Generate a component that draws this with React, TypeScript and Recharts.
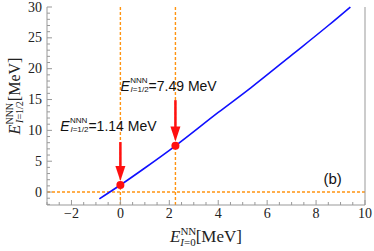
import React from 'react';
import { LineChart, Line, XAxis, YAxis, ReferenceLine, ReferenceDot } from 'recharts';

// curve E_{I=1/2}^{NNN} vs E_{I=0}^{NN}
const curveX = [-0.86, 0, 1, 2.25, 4, 5.33, 7, 8.5, 9.4];
const curveY = [-1.1, 1.14, 3.9, 7.49, 12.9, 16.9, 22.2, 27.0, 30];

// marked points and their arrows
const markX = [0, 2.25];
const markY = [1.14, 7.49];
const arrowTop = [8.1, 14.9];
const arrowTip = [1.8, 8.2];
const markText = ['1.14 MeV', '7.49 MeV'];
const labelX = [-2.46, 0.0];
const labelY = [9.9, 16.45];

const xMajor = [-2, 0, 2, 4, 6, 8, 10];
const yMajor = [0, 5, 10, 15, 20, 25, 30];

const xTicks: number[] = [];
for (let v = -3; v <= 10; v += 0.5) xTicks.push(v);
const yTicks: number[] = [];
for (let v = -2; v <= 30; v += 1) yTicks.push(v);

const data = curveX.map((x, i) => ({ x, y: curveY[i] }));

const FRAME = '#999';
const ORANGE = '#FF9410';
const RED = '#FF1010';
const BLUE = '#1010FF';
const SERIF = 'Liberation Serif';
const SANS = 'Liberation Sans';

const fmt = (v: number) => (v < 0 ? '\u2212' + Math.abs(v) : String(v));

const BottomTick = (p: any) => {
  const v = p.payload.value;
  const major = xMajor.includes(v);
  return (
    <g>
      <line x1={p.x} x2={p.x} y1={p.y} y2={p.y - (major ? 5 : 3)} stroke={FRAME} />
      {major && (
        <text x={p.x} y={p.y + 13} textAnchor="middle" fontFamily={SERIF} fontSize={14} fill="#222">
          {fmt(v)}
        </text>
      )}
    </g>
  );
};

const TopTick = (p: any) => {
  const major = xMajor.includes(p.payload.value);
  return <line x1={p.x} x2={p.x} y1={p.y} y2={p.y + (major ? 5 : 3)} stroke={FRAME} />;
};

const LeftTick = (p: any) => {
  const v = p.payload.value;
  const major = yMajor.includes(v);
  return (
    <g>
      <line x1={p.x} x2={p.x + (major ? 5 : 3)} y1={p.y} y2={p.y} stroke={FRAME} />
      {major && (
        <text x={p.x - 5} y={p.y + 4.5} textAnchor="end" fontFamily={SERIF} fontSize={14} fill="#222">
          {fmt(v)}
        </text>
      )}
    </g>
  );
};

const RightTick = (p: any) => {
  const major = yMajor.includes(p.payload.value);
  return <line x1={p.x} x2={p.x - (major ? 5 : 3)} y1={p.y} y2={p.y} stroke={FRAME} />;
};

const Arrow = (p: any) => {
  const { x1, y1, x2, y2 } = p;
  const head = 15;
  return (
    <g>
      <line x1={x1} y1={y1} x2={x2} y2={y2 - head + 2} stroke={RED} strokeWidth={2.5} />
      <polygon points={`${x2 - 5},${y2 - head} ${x2 + 5},${y2 - head} ${x2},${y2}`} fill={RED} />
    </g>
  );
};

const markLabel = (value: string) => (p: any) => {
  const { x, y } = p.viewBox;
  return (
    <text x={x} y={y} fontFamily={SANS} fontSize={14} fill="#111">
      <tspan fontStyle="italic">E</tspan>
      <tspan fontSize={8} dx={0.5} dy={-8}>NNN</tspan>
      <tspan fontSize={8} dx={-17} dy={9.5} fontStyle="italic">I</tspan>
      <tspan fontSize={8}>=1/2</tspan>
      <tspan dy={-1.5}>={value}</tspan>
    </text>
  );
};

const XTitle = () => (
  <text x={206} y={242} textAnchor="middle" fontFamily={SERIF} fontSize={17} fill="#222">
    <tspan fontStyle="italic">E</tspan>
    <tspan fontSize={11} dy={-7}>NN</tspan>
    <tspan fontSize={11} dx={-16} dy={11} fontStyle="italic">I</tspan>
    <tspan fontSize={11}>=0</tspan>
    <tspan dy={-4}>[MeV]</tspan>
  </text>
);

const YTitle = () => (
  <text transform="rotate(-90)" x={-96} y={20} textAnchor="middle" fontFamily={SERIF} fontSize={16} fill="#222">
    <tspan fontStyle="italic">E</tspan>
    <tspan fontSize={10} dy={-7}>NNN</tspan>
    <tspan fontSize={10} dx={-20} dy={10} fontStyle="italic">I</tspan>
    <tspan fontSize={10}>=1/2</tspan>
    <tspan dy={-3}>[MeV]</tspan>
  </text>
);

const App: React.FC = () => {
  return (
    <div style={{ position: 'absolute', left: 0, top: 0, background: '#fff' }}>
      <LineChart width={374} height={251} data={data} margin={{ top: 7, right: 0, bottom: 0, left: 0 }}>
        <XAxis
          xAxisId="b"
          dataKey="x"
          type="number"
          domain={[-3, 10]}
          ticks={xTicks}
          interval={0}
          height={46}
          tickSize={0}
          tickMargin={0}
          tickLine={false}
          tick={BottomTick}
          axisLine={{ stroke: FRAME }}
          label={{ content: XTitle }}
        />
        <XAxis
          xAxisId="t"
          orientation="top"
          type="number"
          domain={[-3, 10]}
          ticks={xTicks}
          interval={0}
          height={0}
          tickSize={0}
          tickMargin={0}
          tickLine={false}
          tick={TopTick}
          axisLine={{ stroke: FRAME }}
        />
        <YAxis
          yAxisId="l"
          type="number"
          domain={[-2.1, 30]}
          ticks={yTicks}
          interval={0}
          width={47}
          tickSize={0}
          tickMargin={0}
          tickLine={false}
          tick={LeftTick}
          axisLine={{ stroke: FRAME }}
          label={{ content: YTitle }}
        />
        <YAxis
          yAxisId="r"
          orientation="right"
          type="number"
          domain={[-2.1, 30]}
          ticks={yTicks}
          interval={0}
          width={9}
          tickSize={0}
          tickMargin={0}
          tickLine={false}
          tick={RightTick}
          axisLine={{ stroke: FRAME }}
        />
        <ReferenceLine xAxisId="b" yAxisId="l" y={0} stroke={ORANGE} strokeWidth={1.4} strokeDasharray="3 2" />
        {markX.map((mx) => (
          <ReferenceLine key={'v' + mx} xAxisId="b" yAxisId="l" x={mx} stroke={ORANGE} strokeWidth={1.4} strokeDasharray="3 2" />
        ))}
        <Line
          xAxisId="b"
          yAxisId="l"
          dataKey="y"
          type="monotone"
          stroke={BLUE}
          strokeWidth={1.6}
          dot={false}
          isAnimationActive={false}
        />
        {markX.map((mx, i) => (
          <ReferenceLine
            key={'a' + i}
            xAxisId="b"
            yAxisId="l"
            segment={[{ x: mx, y: arrowTop[i] }, { x: mx, y: arrowTip[i] }]}
            shape={Arrow}
          />
        ))}
        {markX.map((mx, i) => (
          <ReferenceDot key={'d' + i} xAxisId="b" yAxisId="l" x={mx} y={markY[i]} r={4} fill={RED} stroke="none" />
        ))}
        {markText.map((t, i) => (
          <ReferenceDot
            key={'t' + i}
            xAxisId="b"
            yAxisId="l"
            x={labelX[i]}
            y={labelY[i]}
            r={0}
            fill="none"
            stroke="none"
            label={markLabel(t)}
          />
        ))}
        <ReferenceDot
          xAxisId="b"
          yAxisId="l"
          x={8.3}
          y={1.3}
          r={0}
          fill="none"
          stroke="none"
          label={(p: any) => (
            <text x={p.viewBox.x} y={p.viewBox.y} fontFamily={SANS} fontSize={15} fill="#111">
              (b)
            </text>
          )}
        />
      </LineChart>
    </div>
  );
};

export default App;
